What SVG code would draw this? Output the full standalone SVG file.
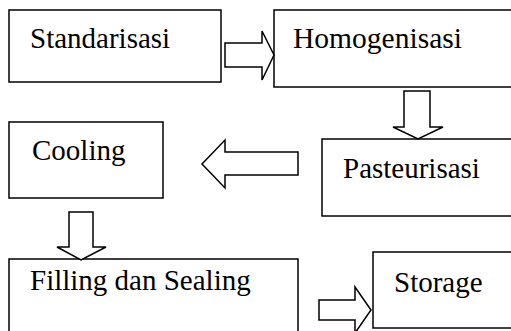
<svg xmlns="http://www.w3.org/2000/svg" width="511" height="331" viewBox="0 0 511 331">
<style>
.box{fill:#fff;stroke:#000;stroke-width:1.5}
.arr{fill:#fff;stroke:#000;stroke-width:1.5;stroke-linejoin:miter}
text{font-family:"Liberation Serif","Times New Roman",serif;font-size:29px;fill:#000}
</style>
<rect width="511" height="331" fill="#fff"/>
<g id="standarisasi"><rect class="box" x="9" y="10" width="212" height="72"/><text x="30" y="48">Standarisasi</text></g>
<g id="homogenisasi"><rect class="box" x="274" y="10" width="245" height="77"/><text x="293" y="48" textLength="169" lengthAdjust="spacingAndGlyphs">Homogenisasi</text></g>
<g id="pasteurisasi"><rect class="box" x="322" y="139" width="200" height="77"/><text x="343" y="178">Pasteurisasi</text></g>
<g id="cooling"><rect class="box" x="9" y="122" width="154" height="76"/><text x="32" y="160">Cooling</text></g>
<g id="filling"><rect class="box" x="9" y="259" width="289" height="80"/><text x="30" y="290">Filling dan Sealing</text></g>
<g id="storage"><rect class="box" x="373" y="252" width="145" height="76"/><text x="394" y="292">Storage</text></g>
<g id="connectors">
<polygon class="arr" points="225,43 262,43 262,31 274,55 262,80 262,67 225,67"/>
<polygon class="arr" points="404,91 430,91 430,127 443,127 418,139 393,127 404,127"/>
<polygon class="arr" points="298,152 225,152 225,140 202,164 225,188 225,175 298,175"/>
<polygon class="arr" points="69,212 93,212 93,247 106,247 81,260 57,247 69,247"/>
<polygon class="arr" points="319,300 355,300 355,287 371,310 355,333 355,320 319,320"/>
</g>
</svg>
